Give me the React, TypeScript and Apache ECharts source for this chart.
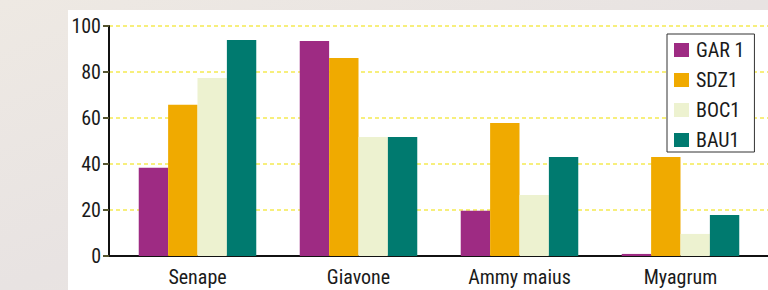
import React, { useEffect, useRef } from "react";
import * as echarts from "echarts";

const categories = ["Senape", "Giavone", "Ammy maius", "Myagrum"];
const seriesNames = ["GAR 1", "SDZ1", "BOC1", "BAU1"];
const gar1 = [38.4, 93.5, 19.7, 0.9];
const sdz1 = [65.8, 86.1, 57.8, 43.0];
const boc1 = [77.4, 51.7, 26.5, 9.6];
const bau1 = [93.9, 51.7, 43.0, 17.8];
const colors = ["#9e2b83", "#f0aa00", "#edf2d0", "#007a6f"];
const yTicks = [0, 20, 40, 60, 80, 100];

const FONT = "'Roboto Condensed', 'DejaVu Sans Condensed', sans-serif";

export default function App() {
  const ref = useRef<HTMLDivElement>(null);
  useEffect(() => {
    if (!ref.current) return;
    const chart = echarts.init(ref.current, null, { renderer: "svg" });
    const values = [gar1, sdz1, boc1, bau1];
    chart.setOption({
      animation: false,
      backgroundColor: {
        type: "linear", x: 0, y: 0, x2: 1, y2: 1,
        colorStops: [
          { offset: 0, color: "#eee9e3" },
          { offset: 0.5, color: "#e8e3e2" },
          { offset: 1, color: "#ece7e0" },
        ],
      },
      textStyle: { fontFamily: FONT },
      graphic: [
        { type: "rect", z: -10, shape: { x: 68, y: 10, width: 700, height: 280 }, style: { fill: "#ffffff" } },
      ],
      grid: [
        { left: 109, right: 0, top: 26, height: 230 },
        { left: 117, right: 7, top: 26, height: 230 },
      ],
      legend: {
        orient: "vertical",
        left: 667,
        top: 34,
        padding: [6, 10, 2, 7],
        itemWidth: 15,
        itemHeight: 14,
        itemGap: 10,
        backgroundColor: "#ffffff",
        borderColor: "#333333",
        borderWidth: 1,
        icon: "rect",
        data: seriesNames,
        textStyle: { fontFamily: FONT, fontSize: 20, color: "#1a1a1a", lineHeight: 14, padding: [0, 0, 0, 2] },
      },
      xAxis: [
        {
          type: "category",
          gridIndex: 0,
          data: categories,
          axisLine: { show: true, lineStyle: { color: "#111111", width: 2 } },
          axisTick: { show: false },
          axisLabel: { show: false },
        },
        {
          type: "category",
          gridIndex: 1,
          data: categories,
          axisLine: { show: false },
          axisTick: { show: false },
          axisLabel: { fontFamily: FONT, fontSize: 20, color: "#1a1a1a", margin: 11 },
        },
      ],
      yAxis: [
        {
          type: "value",
          gridIndex: 0,
          min: 0,
          max: 100,
          interval: 20,
          axisLine: { show: true, lineStyle: { color: "#111111", width: 2 } },
          axisTick: { show: true, length: 6, lineStyle: { color: "#55552f", width: 2 } },
          axisLabel: {
            fontFamily: FONT,
            fontSize: 20,
            color: "#1a1a1a",
            margin: 8,
            formatter: (v: number) => (yTicks.includes(v) ? String(v) : ""),
          },
          splitLine: { show: true, lineStyle: { color: "#f7ef7c", width: 2, type: [4, 3] } },
        },
        {
          type: "value",
          gridIndex: 1,
          min: 0,
          max: 100,
          interval: 20,
          show: false,
          splitLine: { show: false },
        },
      ],
      series: seriesNames.map((name, i) => ({
        name,
        type: "bar",
        xAxisIndex: 1,
        yAxisIndex: 1,
        data: values[i],
        barGap: "0%",
        barCategoryGap: "27%",
        itemStyle: { color: colors[i] },
      })),
    });
    return () => chart.dispose();
  }, []);
  return (
    <div
      ref={ref}
      style={{ position: "fixed", left: 0, top: 0, width: 768, height: 290 }}
    />
  );
}
